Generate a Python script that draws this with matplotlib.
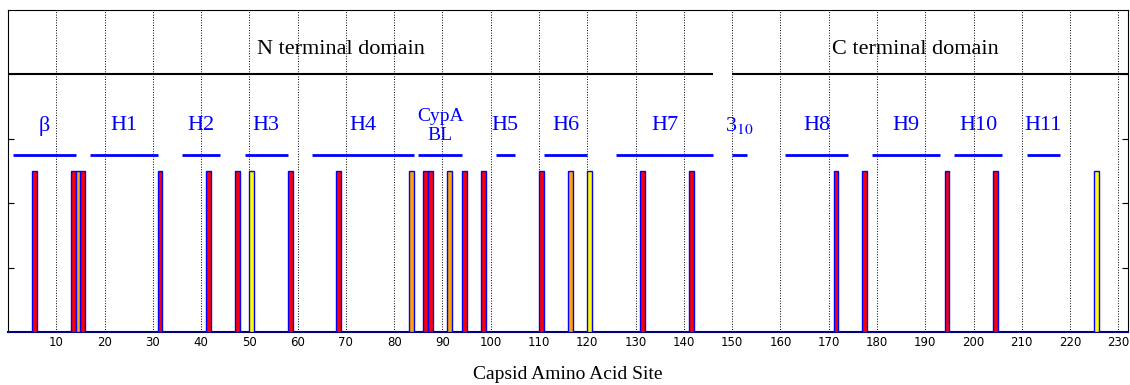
import matplotlib
matplotlib.use("Agg")
import matplotlib.pyplot as plt

plt.rcParams["mathtext.fontset"] = "stix"

# mutated sites, grouped by bar colour
red_sites = [5, 13, 15, 31, 41, 47, 58, 68, 86, 87, 94, 98, 110, 131, 141, 171, 177, 194, 204]
orange_sites = [14, 83, 91, 116]
yellow_sites = [50, 120, 225]
bar_height = 2.5

# secondary structure elements (start, end, label)
ss_labels = ["β", "H1", "H2", "H3", "H4", "CypA\nBL", "H5", "H6", "H7", "3$_{10}$", "H8", "H9", "H10", "H11"]
ss_start = [1, 17, 36, 49, 63, 85, 101, 111, 126, 150, 161, 179, 196, 211]
ss_end = [14, 31, 44, 58, 84, 94, 105, 120, 146, 153, 174, 193, 206, 218]

# domains
dom_labels = ["N terminal domain", "C terminal domain"]
dom_start = [0, 150]
dom_end = [146, 232]
dom_text_x = [69, 188]

fig = plt.figure(figsize=(11.30, 3.85), dpi=100)
ax = fig.add_axes([8/1130, 1 - 332/385, 1120/1130, 322/385])

for sites, col in [(red_sites, "red"), (orange_sites, "orange"), (yellow_sites, "yellow")]:
    ax.bar(sites, [bar_height]*len(sites), width=1, align="edge", color=col,
           edgecolor="blue", linewidth=1, zorder=3)

for s, e, lab in zip(ss_start, ss_end, ss_labels):
    ax.plot([s, e], [2.75, 2.75], color="blue", lw=2, solid_capstyle="butt", zorder=3)
    if lab.startswith("CypA"):
        ax.text((s + e)/2, 3.2, lab, color="blue", ha="center", va="center",
                family="Liberation Serif", fontsize=14, linespacing=1.1)
    else:
        ax.text((s + e)/2, 3.2, lab, color="blue", ha="center", va="center",
                family="Liberation Serif", fontsize=16)

for s, e, tx, lab in zip(dom_start, dom_end, dom_text_x, dom_labels):
    ax.plot([s, e], [4, 4], color="black", lw=1.5, solid_capstyle="butt", zorder=3)
    ax.text(tx, 4.38, lab, color="black", ha="center", va="center",
            family="Liberation Serif", fontsize=16)

ax.set_xlim(0, 232)
ax.set_ylim(0, 5)
ax.set_xticks(range(10, 240, 10))
ax.set_yticks([1, 2, 3, 4])
ax.set_yticklabels([])
ax.tick_params(axis="x", direction="in", length=0, labelsize=8.5, pad=3)
ax.tick_params(axis="y", direction="in", length=4, right=True)
ax.grid(axis="x", color="black", linestyle=":", linewidth=0.7)
ax.spines["bottom"].set_color("navy")
ax.spines["bottom"].set_linewidth(1.5)
ax.set_xlabel("Capsid Amino Acid Site", family="Liberation Serif", fontsize=14, labelpad=12)

fig.savefig("out.png", dpi=100)
